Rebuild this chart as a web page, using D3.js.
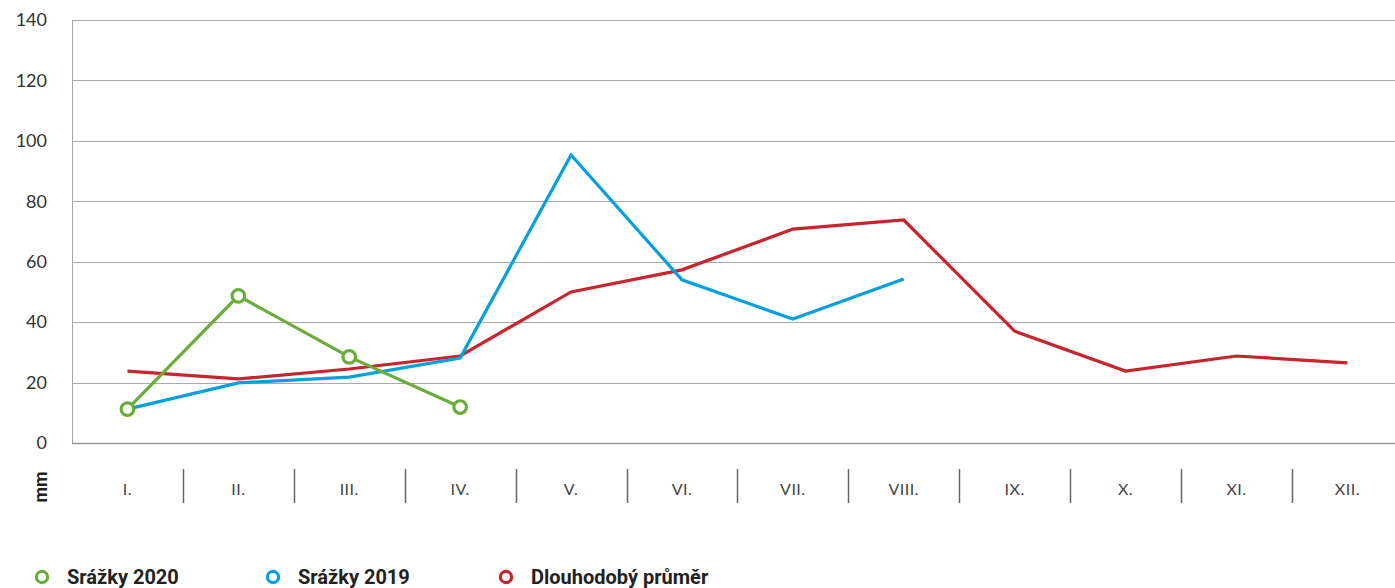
<!DOCTYPE html>
<html>
<head>
<meta charset="utf-8">
<script src="https://cdn.jsdelivr.net/npm/d3@7"></script>
<style>
    body { margin: 0; background: #fff; }
    svg { display: block; }
</style>
</head>
<body>
<div id="chart"></div>
<script>
const months = ['I.', 'II.', 'III.', 'IV.', 'V.', 'VI.', 'VII.', 'VIII.', 'IX.', 'X.', 'XI.', 'XII.'];
const srazky2020 = [11.2, 48.7, 28.5, 11.9];
const srazky2019 = [11.2, 19.9, 21.8, 28.1, 95.3, 54.0, 41.0, 54.3];
const prumer = [23.8, 21.2, 24.5, 28.8, 50.0, 57.3, 70.8, 73.8, 37.0, 23.8, 28.8, 26.5];
const yTicks = [0, 20, 40, 60, 80, 100, 120, 140];

(() => {
    const series = [
        {name: 'Dlouhodobý průměr', values: prumer, color: '#c8242d', markers: false},
        {name: 'Srážky 2019', values: srazky2019, color: '#069fdf', markers: false},
        {name: 'Srážky 2020', values: srazky2020, color: '#6aad3b', markers: true}
    ];
    const legendOrder = [series[2], series[1], series[0]];

    const width = 1395, height = 588;
    const plotLeft = 72, plotTop = 20, plotBottom = 443;

    const svg = d3.select('#chart').append('svg')
        .attr('width', width).attr('height', height);

    const x = d3.scaleBand().domain(months).range([plotLeft, plotLeft + 12 * 110.9]);
    const y = d3.scaleLinear().domain([0, 140]).range([plotBottom, plotTop]);

    // grid
    svg.append('g')
        .selectAll('line')
        .data(yTicks.slice(1))
        .join('line')
        .attr('x1', plotLeft).attr('x2', width)
        .attr('y1', d => Math.round(y(d)) + .5).attr('y2', d => Math.round(y(d)) + .5)
        .attr('stroke', '#a9a9a9').attr('stroke-width', 1);

    svg.append('line')
        .attr('x1', plotLeft + .5).attr('x2', plotLeft + .5)
        .attr('y1', plotTop).attr('y2', plotBottom)
        .attr('stroke', '#a9a9a9');
    svg.append('line')
        .attr('x1', plotLeft).attr('x2', width)
        .attr('y1', plotBottom + .5).attr('y2', plotBottom + .5)
        .attr('stroke', '#999').attr('stroke-width', 1.5);

    // y labels
    svg.append('g')
        .selectAll('text')
        .data(yTicks)
        .join('text')
        .attr('x', 47).attr('y', d => y(d))
        .attr('dy', '0.35em')
        .attr('text-anchor', 'end')
        .attr('font-family', 'Lato, sans-serif')
        .attr('font-size', 18)
        .attr('fill', '#333')
        .text(d => d);

    // x separators and labels
    svg.append('g')
        .selectAll('line')
        .data(months.slice(1))
        .join('line')
        .attr('x1', d => Math.round(x(d)) + .5).attr('x2', d => Math.round(x(d)) + .5)
        .attr('y1', 469).attr('y2', 503)
        .attr('stroke', '#666').attr('stroke-width', 1.5);

    svg.append('g')
        .selectAll('text')
        .data(months)
        .join('text')
        .attr('x', d => x(d) + x.bandwidth() / 2)
        .attr('y', 489)
        .attr('dy', '0.35em')
        .attr('text-anchor', 'middle')
        .attr('font-family', 'Lato, sans-serif')
        .attr('font-size', 16)
        .attr('letter-spacing', 0.5)
        .attr('fill', '#444')
        .text(d => d);

    svg.append('text')
        .attr('transform', 'translate(47,487) rotate(-90)')
        .attr('text-anchor', 'middle')
        .attr('font-family', 'Roboto, sans-serif')
        .attr('font-weight', 'bold')
        .attr('font-size', 18)
        .attr('fill', '#222')
        .text('mm');

    // lines
    const line = d3.line()
        .x((d, i) => x(months[i]) + x.bandwidth() / 2)
        .y(d => y(d));

    series.forEach(s => {
        svg.append('path')
            .attr('d', line(s.values))
            .attr('fill', 'none')
            .attr('stroke', s.color)
            .attr('stroke-width', 3.2)
            .attr('stroke-linejoin', 'miter');
        if (s.markers) {
            svg.append('g')
                .selectAll('circle')
                .data(s.values)
                .join('circle')
                .attr('cx', (d, i) => x(months[i]) + x.bandwidth() / 2)
                .attr('cy', d => y(d))
                .attr('r', 6.3)
                .attr('fill', '#fff')
                .attr('stroke', s.color)
                .attr('stroke-width', 3.2);
        }
    });

    // legend
    const legendX = [42, 273, 506];
    const lg = svg.append('g')
        .selectAll('g')
        .data(legendOrder)
        .join('g')
        .attr('transform', (d, i) => 'translate(' + legendX[i] + ',577)');
    lg.append('circle')
        .attr('r', 5.6)
        .attr('fill', '#fff')
        .attr('stroke', d => d.color)
        .attr('stroke-width', 3.2);
    lg.append('text')
        .attr('x', 25)
        .attr('dy', '0.35em')
        .attr('font-family', 'Roboto, sans-serif')
        .attr('font-weight', 'bold')
        .attr('font-size', 20)
        .attr('fill', '#222')
        .text(d => d.name);
})();
</script>
</body>
</html>
